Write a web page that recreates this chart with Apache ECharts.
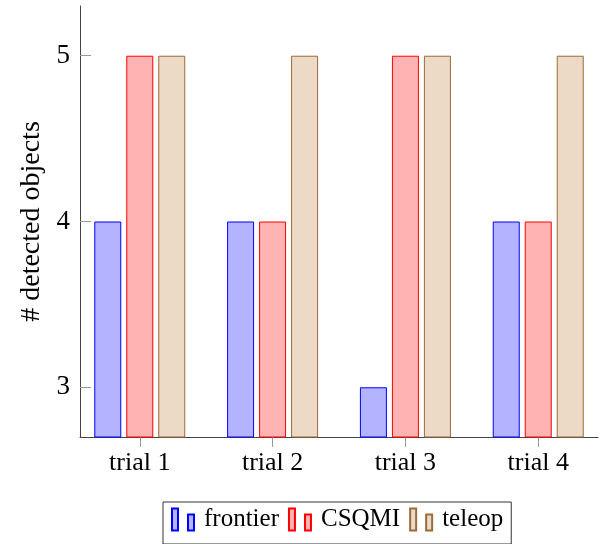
<!DOCTYPE html>
<html>
<head>
<meta charset="utf-8">
<script src="https://cdn.jsdelivr.net/npm/echarts@6/dist/echarts.min.js"></script>
<style>html,body{margin:0;padding:0;background:#fff;}#chart{width:600px;height:544px;}</style>
</head>
<body>
<div id="chart"></div>
<script>
const categories = ['trial 1', 'trial 2', 'trial 3', 'trial 4'];
const categoryPositions = [1, 2, 3, 4];
const frontier = [4, 4, 3, 4];
const csqmi = [5, 4, 5, 4];
const teleop = [5, 5, 5, 5];
const yTicks = [3, 4, 5];

const serif = 'Liberation Serif';
const icon = 'path://M0,0h6v22h-6z M16,6h6v16h-6z';

function pairs(vals) { return vals.map((v, i) => [categoryPositions[i], v]); }

const chart = echarts.init(document.getElementById('chart'), null, {renderer: 'canvas'});
chart.setOption({
  animation: false,
  grid: {left: 80, right: 2, top: 6, bottom: 107, containLabel: false},
  xAxis: {
    type: 'value', min: 0.55, max: 4.45,
    axisLine: {show: true, lineStyle: {color: '#444', width: 1}},
    axisTick: {show: true, customValues: categoryPositions, length: 10, lineStyle: {color: '#999'}},
    axisLabel: {customValues: categoryPositions, formatter: v => categories[categoryPositions.indexOf(v)] || '',
      fontFamily: serif, fontSize: 26, color: '#000', margin: 13},
    splitLine: {show: false}
  },
  yAxis: {
    type: 'value', min: 2.7, max: 5.3,
    name: '# detected objects', nameLocation: 'middle', nameRotate: 90, nameGap: 34,
    nameTextStyle: {fontFamily: serif, fontSize: 28, color: '#000'},
    axisLine: {show: true, lineStyle: {color: '#444', width: 1}},
    axisTick: {show: true, inside: true, customValues: yTicks, length: 11, lineStyle: {color: '#999'}},
    axisLabel: {customValues: yTicks, fontFamily: serif, fontSize: 27, color: '#000', margin: 10},
    splitLine: {show: false}
  },
  legend: {
    left: 163, top: 502, orient: 'horizontal',
    itemWidth: 22, itemHeight: 22, itemGap: 9,
    padding: [5, 8, 12, 8],
    borderColor: '#333', borderWidth: 1,
    textStyle: {fontFamily: serif, fontSize: 25, color: '#000', padding: [0, 0, 0, 5]},
    data: [
      {name: 'frontier', icon: icon},
      {name: 'CSQMI', icon: icon},
      {name: 'teleop', icon: icon}
    ]
  },
  series: [
    {name: 'frontier', type: 'bar', data: pairs(frontier), barWidth: 27, barGap: '18.5%',
      itemStyle: {color: '#b3b3ff', borderColor: '#0000ff', borderWidth: 1}},
    {name: 'CSQMI', type: 'bar', data: pairs(csqmi), barWidth: 27, barGap: '18.5%',
      itemStyle: {color: '#ffb3b3', borderColor: '#ff0000', borderWidth: 1}},
    {name: 'teleop', type: 'bar', data: pairs(teleop), barWidth: 27, barGap: '18.5%',
      itemStyle: {color: '#ecd9c6', borderColor: '#9a6b3c', borderWidth: 1}}
  ]
});
</script>
</body>
</html>
